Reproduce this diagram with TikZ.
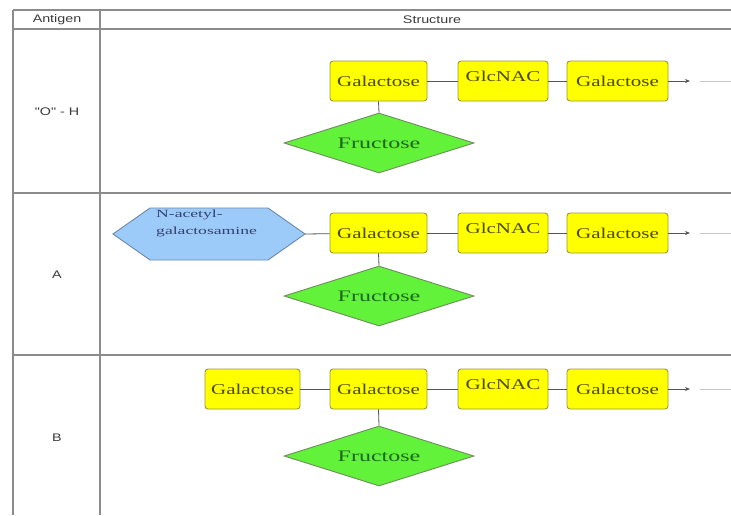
\documentclass[tikz,border=0pt]{standalone}
\usepackage{fontspec}
\setmainfont{Liberation Serif}
\newfontfamily\boxfont[FakeStretch=1.4]{Liberation Serif}
\newfontfamily\frufont[FakeStretch=1.5]{Liberation Serif}
\newfontfamily\hexfont[FakeStretch=1.6]{Liberation Serif}
\newfontfamily\hdrfont[FakeStretch=1.3]{Liberation Sans}
\usetikzlibrary{shapes.geometric,arrows.meta}
\definecolor{boxyellow}{HTML}{FFFF00}
\definecolor{boxborder}{HTML}{9A9A3A}
\definecolor{boxtext}{HTML}{4A4A00}
\definecolor{frugreen}{HTML}{62F23A}
\definecolor{fruborder}{HTML}{6E8C5E}
\definecolor{frutext}{HTML}{1E661E}
\definecolor{hexblue}{HTML}{9CCBFA}
\definecolor{hexborder}{HTML}{6C88A8}
\definecolor{hextext}{HTML}{34406E}
\definecolor{gridline}{HTML}{8C8C8C}
\definecolor{hdrtext}{HTML}{3A3A3A}
\definecolor{conn}{HTML}{555555}
\tikzset{
  gridrule/.style={draw=gridline, line width=1.6pt},
  sugar/.style={draw=boxborder, fill=boxyellow, line width=0.9pt, rounded corners=3pt,
    minimum height=40pt, inner sep=0pt, text=boxtext, font=\boxfont\fontsize{15}{18}\selectfont},
  fructose/.style={shape=diamond, draw=fruborder, fill=frugreen, line width=0.9pt,
    shape aspect=3.2, minimum width=190pt, minimum height=60pt, inner sep=0pt,
    text=frutext, font=\frufont\fontsize{16}{19}\selectfont},
  hexshape/.style={draw=hexborder, fill=hexblue, line width=0.9pt},
  hexlabel/.style={text=hextext, align=left, inner sep=0pt,
    font=\hexfont\fontsize{11}{17}\selectfont},
  hdr/.style={text=hdrtext, inner sep=0pt, font=\hdrfont\fontsize{11}{13}\selectfont},
  link/.style={draw=conn, line width=0.8pt},
  arrowlink/.style={draw=conn, line width=0.8pt, -{Stealth[length=5pt,width=4pt]}},
  faint/.style={draw=gray!45, line width=0.8pt},
}
\begin{document}
\begin{tikzpicture}[x=1pt, y=-1pt]
\useasboundingbox (0,0) rectangle (731,515);
\fill[white] (0,0) rectangle (731,515);

% table grid
\draw[gridrule] (13,10) -- (13,515);
\draw[gridrule] (100,10) -- (100,515);
\draw[gridrule] (13,10) -- (731,10);
\draw[gridrule] (13,29) -- (731,29);
\draw[gridrule] (13,193) -- (731,193);
\draw[gridrule] (13,355) -- (731,355);

% headers
\node[hdr] (hant) at (57,20) {Antigen};
\node[hdr] (hstr) at (432,20) {Structure};
\node[hdr] (lo) at (57,112) {"O" - H};
\node[hdr] (la) at (57,275) {A};
\node[hdr] (lb) at (57,438) {B};

% row 1
\node[sugar, minimum width=97pt] (g11) at (378.5,81) {Galactose};
\node[sugar, minimum width=90pt] (n12) at (503,81) {\raisebox{5pt}[\height][\depth]{GlcNAC}};
\node[sugar, minimum width=101pt] (g13) at (617.5,81) {Galactose};
\node[fructose] (f1) at (379,143) {Fructose};
\coordinate (e1) at (690,81);
\coordinate (t1a) at (700,81);
\coordinate (t1b) at (731,81);
\draw[link] (g11) -- (n12);
\draw[link] (n12) -- (g13);
\draw[arrowlink] (g13) -- (e1);
\draw[faint] (t1a) -- (t1b);
\draw[link] (g11.south) -- (f1.north);

% row 2
\coordinate (hw) at (113,234);
\coordinate (hnw) at (150,208);
\coordinate (hne) at (268,208);
\coordinate (he) at (305,234);
\coordinate (hse) at (268,260);
\coordinate (hsw) at (150,260);
\draw[hexshape] (hw) -- (hnw) -- (hne) -- (he) -- (hse) -- (hsw) -- cycle;
\node[hexlabel, anchor=north west] (hex) at (156,210) {N-acetyl-\\galactosamine};
\node[sugar, minimum width=97pt] (g21) at (378.5,233) {Galactose};
\node[sugar, minimum width=90pt] (n22) at (503,233) {\raisebox{5pt}[\height][\depth]{GlcNAC}};
\node[sugar, minimum width=101pt] (g23) at (617.5,233) {Galactose};
\node[fructose] (f2) at (379,296) {Fructose};
\coordinate (e2) at (690,233);
\coordinate (t2a) at (700,233);
\coordinate (t2b) at (731,233);
\draw[link] (he) -- (g21);
\draw[link] (g21) -- (n22);
\draw[link] (n22) -- (g23);
\draw[arrowlink] (g23) -- (e2);
\draw[faint] (t2a) -- (t2b);
\draw[link] (g21.south) -- (f2.north);

% row 3
\node[sugar, minimum width=95pt] (g30) at (252.5,389) {Galactose};
\node[sugar, minimum width=97pt] (g31) at (378.5,389) {Galactose};
\node[sugar, minimum width=90pt] (n32) at (503,389) {\raisebox{5pt}[\height][\depth]{GlcNAC}};
\node[sugar, minimum width=101pt] (g33) at (617.5,389) {Galactose};
\node[fructose] (f3) at (379,456) {Fructose};
\coordinate (e3) at (690,389);
\coordinate (t3a) at (700,389);
\coordinate (t3b) at (731,389);
\draw[link] (g30) -- (g31);
\draw[link] (g31) -- (n32);
\draw[link] (n32) -- (g33);
\draw[arrowlink] (g33) -- (e3);
\draw[faint] (t3a) -- (t3b);
\draw[link] (g31.south) -- (f3.north);
\end{tikzpicture}
\end{document}
